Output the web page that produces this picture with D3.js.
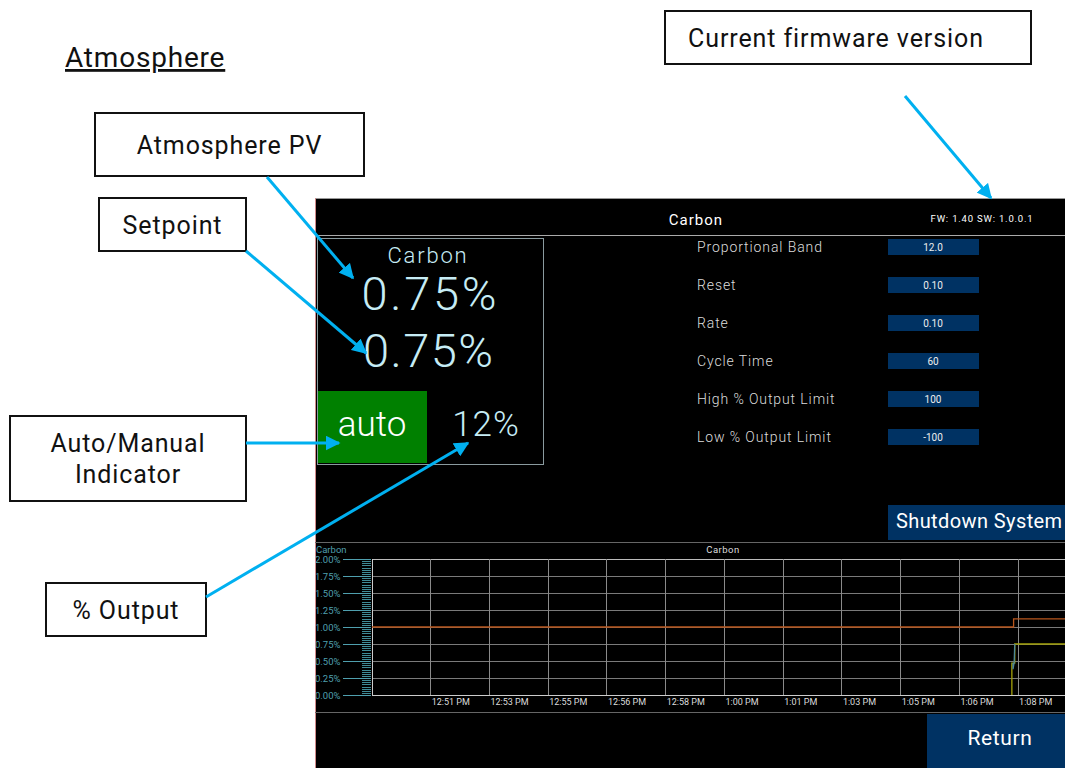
<!DOCTYPE html>
<html>
<head>
<meta charset="utf-8">
<script src="https://cdn.jsdelivr.net/npm/d3@7"></script>
<style>
  body { margin: 0; background: #fff; }
  svg { display: block; font-family: Roboto, "DejaVu Sans", sans-serif; }
</style>
</head>
<body>
<script>
// controller parameters shown on the screen
var paramNames = ["Proportional Band", "Reset", "Rate", "Cycle Time", "High % Output Limit", "Low % Output Limit"];
var paramValues = ["12.0", "0.10", "0.10", "60", "100", "-100"];

// trend chart: x tick times and y ticks (%)
var tickTimes = ["12:51:36", "12:53:18", "12:55:00", "12:56:42", "12:58:24", "13:00:06",
                 "13:01:48", "13:03:30", "13:05:12", "13:06:54", "13:08:36"];
var yTicks = [0, 0.25, 0.5, 0.75, 1.0, 1.25, 1.5, 1.75, 2.0];

// series (time, value in %)
var setpointSeries = [["12:49:55", 1.00], ["13:08:29", 1.00], ["13:08:29", 1.12], ["13:10:00", 1.12]];
var outputSeries = [["13:08:26", 0.00], ["13:08:26", 0.47], ["13:08:31", 0.47], ["13:08:31", 0.75], ["13:10:00", 0.75]];
var pvSeries = [["13:08:28", 0.47], ["13:08:28", 0.38], ["13:08:30", 0.48], ["13:08:31", 0.75]];

// callouts around the screenshot
var callouts = [
  { lines: ["Atmosphere PV"], box: [95, 113, 269, 63] },
  { lines: ["Setpoint"], box: [99, 198, 147, 53] },
  { lines: ["Current firmware version"], box: [665, 11, 366, 53], cx: 836 },
  { lines: ["Auto/Manual", "Indicator"], box: [10, 416, 236, 85] },
  { lines: ["% Output"], box: [46, 583, 160, 53] }
];
var arrows = [[267, 177, 353, 278], [246, 251, 366, 353], [246, 443, 339, 443], [206, 597, 468, 443], [905, 96, 991, 198]];

var W = 1065, H = 768;
var svg = d3.select("body").append("svg").attr("width", W).attr("height", H);

svg.append("defs").append("marker")
  .attr("id", "head").attr("viewBox", "0 0 10 10").attr("refX", 9).attr("refY", 5)
  .attr("markerWidth", 5).attr("markerHeight", 5).attr("orient", "auto")
  .append("path").attr("d", "M0,0L10,5L0,10Z").attr("fill", "#00b0f0");

// title
svg.append("text").attr("x", 65).attr("y", 67).attr("font-size", 28).attr("fill", "#111")
  .attr("letter-spacing", 0.8).attr("text-decoration", "underline").text("Atmosphere");

// ---- screen ----
var scr = svg.append("g");
scr.append("rect").attr("x", 315).attr("y", 198).attr("width", W - 315).attr("height", H - 198).attr("fill", "#000");
scr.append("line").attr("x1", 315).attr("x2", W).attr("y1", 198.5).attr("y2", 198.5).attr("stroke", "#999");
scr.append("line").attr("x1", 315.5).attr("x2", 315.5).attr("y1", 198).attr("y2", H).attr("stroke", "#d08a8a");

scr.append("text").attr("x", 696).attr("y", 225).attr("text-anchor", "middle")
  .attr("font-size", 15).attr("letter-spacing", 1).attr("fill", "#fff").text("Carbon");
scr.append("text").attr("x", 982).attr("y", 222).attr("text-anchor", "middle")
  .attr("font-size", 9.5).attr("letter-spacing", 0.8).attr("fill", "#fff").text("FW: 1.40 SW: 1.0.0.1");
scr.append("line").attr("x1", 315).attr("x2", W).attr("y1", 235.5).attr("y2", 235.5).attr("stroke", "#aaa");

// PV box
scr.append("rect").attr("x", 317.5).attr("y", 238.5).attr("width", 226).attr("height", 226)
  .attr("fill", "none").attr("stroke", "#8a9a9e");
var cyan = "#c6ecf5";
scr.append("text").attr("x", 428).attr("y", 263).attr("text-anchor", "middle")
  .attr("font-size", 22).attr("font-weight", 300).attr("letter-spacing", 1.8).attr("fill", cyan).text("Carbon");
scr.append("text").attr("x", 429).attr("y", 310).attr("text-anchor", "middle")
  .attr("font-size", 47).attr("font-weight", 300).attr("fill", cyan)
  .attr("textLength", 135).attr("lengthAdjust", "spacing").text("0.75%");
scr.append("text").attr("x", 428).attr("y", 367).attr("text-anchor", "middle")
  .attr("font-size", 47).attr("font-weight", 300).attr("fill", cyan)
  .attr("textLength", 130).attr("lengthAdjust", "spacing").text("0.75%");
scr.append("rect").attr("x", 318).attr("y", 391).attr("width", 109).attr("height", 72).attr("fill", "#008000");
scr.append("text").attr("x", 372).attr("y", 436).attr("text-anchor", "middle")
  .attr("font-size", 35).attr("font-weight", 300).attr("fill", "#fff").text("auto");
scr.append("text").attr("x", 486).attr("y", 436).attr("text-anchor", "middle")
  .attr("font-size", 35).attr("font-weight", 300).attr("letter-spacing", 1).attr("fill", cyan).text("12%");

// parameter list
var rowY = d3.scalePoint().domain(paramNames).range([247, 437]);
var rows = scr.selectAll("g.param").data(paramNames).join("g").attr("class", "param")
  .attr("transform", function(d) { return "translate(0," + rowY(d) + ")"; });
rows.append("text").attr("x", 697).attr("y", 5).attr("font-size", 14).attr("font-weight", 300)
  .attr("letter-spacing", 0.9).attr("fill", "#ddd").text(function(d) { return d; });
rows.append("rect").attr("x", 888).attr("y", -8).attr("width", 91).attr("height", 16).attr("fill", "#003263");
rows.append("text").attr("x", 933).attr("y", 3.5).attr("text-anchor", "middle").attr("font-size", 10)
  .attr("fill", "#eee").text(function(d, i) { return paramValues[i]; });

// shutdown button
scr.append("rect").attr("x", 888).attr("y", 505).attr("width", W - 888).attr("height", 35).attr("fill", "#003263");
scr.append("text").attr("x", 896).attr("y", 528).attr("font-size", 20).attr("fill", "#fff")
  .attr("letter-spacing", 0.4).text("Shutdown System");

// ---- trend chart ----
scr.append("line").attr("x1", 315).attr("x2", W).attr("y1", 542.5).attr("y2", 542.5).attr("stroke", "#666");
scr.append("line").attr("x1", 315).attr("x2", W).attr("y1", 712.5).attr("y2", 712.5).attr("stroke", "#666");
scr.append("text").attr("x", 316).attr("y", 553).attr("font-size", 9.5).attr("fill", "#4f9fae").text("Carbon");
scr.append("text").attr("x", 723).attr("y", 553).attr("text-anchor", "middle").attr("font-size", 9.5)
  .attr("letter-spacing", 0.5).attr("fill", "#ddd").text("Carbon");

var parseT = d3.timeParse("%H:%M:%S");
var x = d3.scaleTime().domain([parseT("12:49:55"), parseT("13:10:00")]).range([372, 1066]);
var y = d3.scaleLinear().domain([0, 2]).range([695, 559]);
var plotL = 372, plotR = W, plotT = 559, plotB = 695;

// horizontal grid
scr.append("g").selectAll("line").data(yTicks.slice(1)).join("line")
  .attr("x1", plotL).attr("x2", plotR)
  .attr("y1", function(d) { return Math.round(y(d)) + 0.5; }).attr("y2", function(d) { return Math.round(y(d)) + 0.5; })
  .attr("stroke", function(d) { return d === 2 ? "#bbb" : "#7a7a7a"; });
// vertical grid
var tickDates = tickTimes.map(parseT);
scr.append("g").selectAll("line").data(tickDates).join("line")
  .attr("x1", function(d) { return Math.round(x(d)) + 0.5; }).attr("x2", function(d) { return Math.round(x(d)) + 0.5; })
  .attr("y1", plotT).attr("y2", plotB).attr("stroke", "#8a8a8a");

// minor y ticks (8 per major interval)
var minorVals = d3.range(0, 2.0001, 0.25 / 8);
scr.append("g").selectAll("line").data(minorVals).join("line")
  .attr("x1", plotL - 10).attr("x2", plotL - 1)
  .attr("y1", function(d) { return Math.round(y(d)) + 0.5; }).attr("y2", function(d) { return Math.round(y(d)) + 0.5; })
  .attr("stroke", "#3f8a96");

// major y ticks with labels
var yAxis = scr.append("g").attr("transform", "translate(" + (plotL - 1) + ",0)")
  .call(d3.axisLeft(y).tickValues(yTicks).tickSize(28).tickPadding(0)
    .tickFormat(function(d) { return d3.format(".2f")(d) + "%"; }));
yAxis.select(".domain").remove();
yAxis.selectAll("line").attr("stroke", "#4f9fae");
yAxis.selectAll("text").attr("text-anchor", "start").attr("x", 315 - plotL + 1).attr("dy", "0.35em")
  .attr("font-size", 9.5).attr("fill", "#4f9fae").attr("font-family", "Roboto, sans-serif");

// x axis labels
var xAxis = scr.append("g").attr("transform", "translate(0," + plotB + ")")
  .call(d3.axisBottom(x).tickValues(tickDates).tickSize(0).tickPadding(4).tickFormat(d3.timeFormat("%-I:%M %p")));
xAxis.select(".domain").remove();
xAxis.selectAll("text").attr("text-anchor", "start").attr("dx", 1).attr("font-size", 9).attr("fill", "#ddd")
  .attr("font-family", "Roboto, sans-serif");

// plot frame
scr.append("line").attr("x1", plotL + 0.5).attr("x2", plotL + 0.5).attr("y1", plotT).attr("y2", plotB + 0.5).attr("stroke", "#ccc");
scr.append("line").attr("x1", plotL).attr("x2", plotR).attr("y1", plotB + 0.5).attr("y2", plotB + 0.5).attr("stroke", "#ccc");

var line = d3.line().x(function(d) { return x(parseT(d[0])); }).y(function(d) { return y(d[1]); });
scr.append("path").datum(setpointSeries).attr("d", line).attr("fill", "none").attr("stroke", "#b8561c").attr("stroke-width", 1.3);
scr.append("path").datum(outputSeries).attr("d", line).attr("fill", "none").attr("stroke", "#a3a10a").attr("stroke-width", 1.3);
scr.append("path").datum(pvSeries).attr("d", line).attr("fill", "none").attr("stroke", "#4d8796").attr("stroke-width", 1.3);

// return button
scr.append("rect").attr("x", 927).attr("y", 714).attr("width", W - 927).attr("height", H - 714).attr("fill", "#003263");
scr.append("text").attr("x", 1000).attr("y", 745).attr("text-anchor", "middle").attr("font-size", 21)
  .attr("fill", "#fff").attr("letter-spacing", 0.6).text("Return");

// ---- callouts ----
var co = svg.selectAll("g.callout").data(callouts).join("g").attr("class", "callout");
co.append("rect").attr("x", function(d) { return d.box[0]; }).attr("y", function(d) { return d.box[1]; })
  .attr("width", function(d) { return d.box[2]; }).attr("height", function(d) { return d.box[3]; })
  .attr("fill", "#fff").attr("stroke", "#111").attr("stroke-width", 2);
co.each(function(d) {
  var g = d3.select(this);
  var cx = d.cx || d.box[0] + d.box[2] / 2, cy = d.box[1] + d.box[3] / 2;
  var n = d.lines.length;
  d.lines.forEach(function(t, i) {
    g.append("text").attr("x", cx).attr("y", cy + (i - (n - 1) / 2) * 31 + 9)
      .attr("text-anchor", "middle").attr("font-size", 25).attr("letter-spacing", 0.9)
      .attr("fill", "#111").text(t);
  });
});

svg.selectAll("line.arrow").data(arrows).join("line").attr("class", "arrow")
  .attr("x1", function(d) { return d[0]; }).attr("y1", function(d) { return d[1]; })
  .attr("x2", function(d) { return d[2]; }).attr("y2", function(d) { return d[3]; })
  .attr("stroke", "#00b0f0").attr("stroke-width", 3).attr("marker-end", "url(#head)");
</script>
</body>
</html>
